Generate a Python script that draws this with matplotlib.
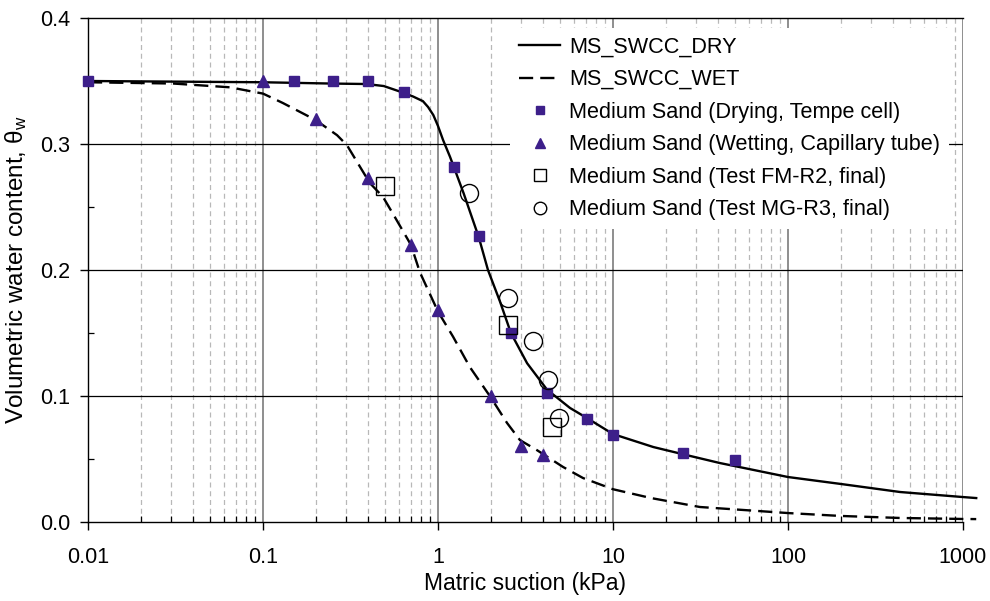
import numpy as np
import matplotlib

matplotlib.use("Agg")
import matplotlib.pyplot as plt
from matplotlib.ticker import FixedLocator, NullFormatter, FixedFormatter

plt.rcParams["font.family"] = ["Liberation Sans", "DejaVu Sans"]
plt.rcParams["mathtext.fontset"] = "custom"
plt.rcParams["mathtext.rm"] = "Liberation Sans"
plt.rcParams["mathtext.it"] = "Liberation Sans:italic"

# ---------------------------------------------------------------------------
# data (suction in kPa, volumetric water content)
# ---------------------------------------------------------------------------
dry_x = [0.01, 0.0314, 0.1, 0.24, 0.39, 0.49, 0.64, 0.72, 0.82, 0.877, 0.94, 1.0,
         1.07, 1.17, 1.23, 1.40, 1.71, 1.93, 2.26, 2.61, 3.23, 4.2, 5.68, 7.1, 10,
         17, 26.5, 40.8, 100, 200, 437, 1000, 1190]
dry_y = [0.350, 0.3495, 0.349, 0.348, 0.3476, 0.346, 0.3405, 0.3377, 0.334, 0.3294,
         0.323, 0.3143, 0.303, 0.290, 0.282, 0.261, 0.226, 0.200, 0.175, 0.150,
         0.126, 0.105, 0.0905, 0.0825, 0.0698, 0.0595, 0.053, 0.0468, 0.0357,
         0.0302, 0.0238, 0.0198, 0.019]

wet_x = [0.01, 0.0306, 0.0647, 0.1, 0.13, 0.2, 0.265, 0.302, 0.358, 0.408, 0.485,
         0.567, 0.7, 0.789, 1.0, 1.22, 1.52, 2.0, 2.48, 2.94, 3.68, 5.18, 6.74,
         10, 16.5, 31.4, 100, 200, 437, 1000, 1190]
wet_y = [0.349, 0.348, 0.345, 0.340, 0.3325, 0.319, 0.307, 0.299, 0.282, 0.269,
         0.258, 0.242, 0.220, 0.198, 0.167, 0.147, 0.123, 0.099, 0.0786, 0.065,
         0.057, 0.0437, 0.0349, 0.026, 0.019, 0.0119, 0.0071, 0.0048, 0.0032,
         0.0024, 0.0023]

drying_x = [0.01, 0.15, 0.25, 0.4, 0.64, 1.23, 1.71, 2.61, 4.2, 7.1, 10, 25, 50]
drying_y = [0.350, 0.350, 0.350, 0.350, 0.341, 0.282, 0.227, 0.150, 0.102, 0.082,
            0.069, 0.055, 0.049]

wetting_x = [0.1, 0.2, 0.4, 0.7, 1.0, 2.0, 3.0, 4.0]
wetting_y = [0.350, 0.320, 0.273, 0.220, 0.168, 0.100, 0.060, 0.053]

fm_x = [0.5, 2.5, 4.5]
fm_y = [0.267, 0.156, 0.0755]

mg_x = [1.5, 2.5, 3.5, 4.25, 4.9]
mg_y = [0.261, 0.178, 0.144, 0.113, 0.0825]

x_ticks = [0.01, 0.1, 1, 10, 100, 1000]
x_tick_labels = ["0.01", "0.1", "1", "10", "100", "1000"]

purple = "#3d1f8a"

fig = plt.figure(figsize=(9.9, 6.01), dpi=100)
ax = fig.add_axes([88 / 990, 1 - 522 / 601, (963 - 88) / 990, (522 - 18) / 601])

ax.set_xscale("log")
ax.set_xlim(0.01, 1000)
ax.set_ylim(0, 0.4)

# grid: dashed grey minor verticals, grey major verticals, black horizontals
minor = [m * 10.0 ** e for e in range(-2, 3) for m in range(2, 10)]
for xv in minor:
    ax.axvline(xv, color="#b8b8b8", lw=0.9, ls=(0, (4, 3)), zorder=1)
for xv in x_ticks[1:]:
    ax.axvline(xv, color="#707070", lw=1.1, zorder=1.2)
for yv in [0.1, 0.2, 0.3]:
    ax.axhline(yv, color="black", lw=0.9, zorder=1.2)

ax.plot(dry_x, dry_y, color="black", lw=1.7, label="MS_SWCC_DRY",
        clip_on=False, zorder=3)
ax.plot(wet_x, wet_y, color="black", lw=1.7, ls=(0, (6, 3)), label="MS_SWCC_WET",
        clip_on=False, zorder=3)
ax.plot(drying_x, drying_y, ls="none", marker="s", ms=7, color=purple,
        mec=purple, label="Medium Sand (Drying, Tempe cell)", zorder=4, clip_on=False)
ax.plot(wetting_x, wetting_y, ls="none", marker="^", ms=9, color=purple,
        mec=purple, label="Medium Sand (Wetting, Capillary tube)", zorder=4)
ax.plot(fm_x, fm_y, ls="none", marker="s", ms=13, mfc="none", mec="black", mew=1,
        label="Medium Sand (Test FM-R2, final)", zorder=4)
ax.plot(mg_x, mg_y, ls="none", marker="o", ms=13, mfc="none", mec="black", mew=1,
        label="Medium Sand (Test MG-R3, final)", zorder=4)

# axes and ticks
ax.spines["right"].set_visible(False)
for s in ["left", "bottom", "top"]:
    ax.spines[s].set_color("black")
    ax.spines[s].set_linewidth(1.0)

ax.xaxis.set_major_locator(FixedLocator(x_ticks))
ax.xaxis.set_major_formatter(FixedFormatter(x_tick_labels))
ax.xaxis.set_minor_locator(FixedLocator(minor))
ax.xaxis.set_minor_formatter(NullFormatter())
ax.set_yticks([0.0, 0.1, 0.2, 0.3, 0.4])
ax.set_yticklabels(["0.0", "0.1", "0.2", "0.3", "0.4"])
ax.yaxis.set_minor_locator(FixedLocator([0.05, 0.15, 0.25, 0.35]))

ax.tick_params(axis="both", which="major", direction="out", length=6, width=1,
               labelsize=15.5, pad=7)
ax.tick_params(axis="both", which="minor", direction="in", length=4, width=0.9)
ax.tick_params(axis="x", which="major", pad=12)

ax.set_xlabel("Matric suction (kPa)", fontsize=16.5, labelpad=3)
ax.set_ylabel(r"Volumetric water content, θ$_{\mathrm{w}}$", fontsize=17.5, labelpad=8)

leg = ax.legend(loc="upper right", bbox_to_anchor=((955 - 88) / 875, 0.993),
                bbox_transform=ax.transAxes, fontsize=15.6, frameon=True,
                facecolor="white", edgecolor="none", framealpha=1, fancybox=False,
                handlelength=1.9, handletextpad=0.4, labelspacing=0.53,
                borderpad=0.4, borderaxespad=0.3)
leg.set_zorder(5)
sizes = [None, None, 6, 7, 9, 9]
for h, s in zip(leg.legend_handles, sizes):
    if s is not None:
        h.set_markersize(s)

fig.savefig("out.png", dpi=100)
